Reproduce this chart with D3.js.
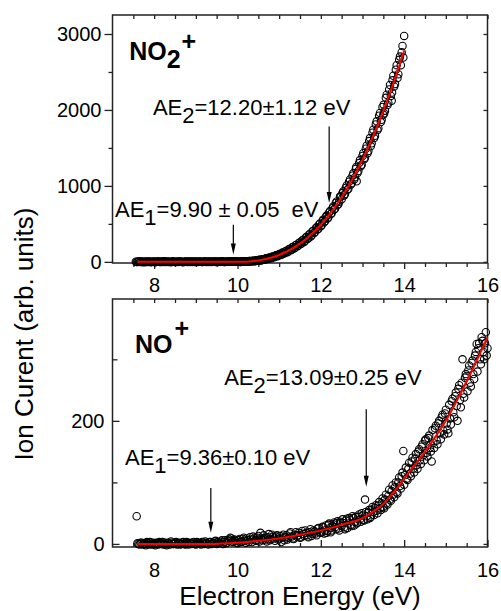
<!DOCTYPE html>
<html>
<head>
<meta charset="utf-8">
<script src="https://cdn.jsdelivr.net/npm/d3@7"></script>
<style>
  html, body { margin: 0; padding: 0; background: #fff; }
  svg { display: block; font-family: "Liberation Sans", Arial, sans-serif; }
  .axis path.domain { display: none; }
  .axis line { stroke: #222; stroke-width: 1.3; }
  .axis text { fill: #000; font-size: 20px; font-family: "Liberation Sans", Arial, sans-serif; }
  .note { font-size: 22px; fill: #000; white-space: pre; }
  .ion { font-size: 25px; font-weight: bold; fill: #000; }
</style>
</head>
<body>
<svg id="chart" width="501" height="611"></svg>
<script>
// ---- Energy axis (eV) ----
const energyTicks = [8, 10, 12, 14, 16];
const energyMinorTicks = [7.5, 8.5, 9, 9.5, 10.5, 11, 11.5, 12.5, 13, 13.5, 14.5, 15, 15.5];

// ---- NO2+ panel ----
const no2Ticks = [0, 1000, 2000, 3000];
const no2MinorTicks = [500, 1500, 2500];
// [electron energy (eV), ion current]
const no2Points = [
  [7.56,3],[7.60,-2],[7.64,5],[7.68,0],[7.72,-4],[7.76,2],[7.80,6],[7.84,-1],[7.88,3],[7.92,-5],
  [7.96,1],[8.00,4],[8.04,-2],[8.08,0],[8.12,5],[8.16,-3],[8.20,2],[8.24,7],[8.28,-1],[8.32,3],
  [8.36,0],[8.40,-4],[8.44,4],[8.48,1],[8.52,-2],[8.56,6],[8.60,0],[8.64,3],[8.68,-3],[8.72,2],
  [8.76,5],[8.80,-1],[8.84,0],[8.88,4],[8.92,-2],[8.96,3],[9.00,6],[9.04,-3],[9.08,1],[9.12,2],
  [9.16,-1],[9.20,5],[9.24,0],[9.28,3],[9.32,-2],[9.36,4],[9.40,1],[9.44,6],[9.48,-1],[9.52,2],
  [9.56,4],[9.60,0],[9.64,7],[9.68,-2],[9.72,3],[9.76,5],[9.80,1],[9.84,8],[9.88,2],[9.92,4],
  [9.96,6],[10.00,3],[10.04,4],[10.08,-2],[10.12,7],[10.16,2],[10.20,9],[10.24,1],[10.28,12],[10.32,6],
  [10.36,15],[10.40,9],[10.44,20],[10.48,14],[10.52,28],[10.56,19],[10.60,36],[10.64,30],[10.68,46],[10.72,37],
  [10.76,58],[10.80,49],[10.84,72],[10.88,60],[10.92,86],[10.96,74],[11.00,104],[11.04,90],[11.08,122],[11.12,110],
  [11.16,144],[11.20,128],[11.24,168],[11.28,152],[11.32,195],[11.36,176],[11.40,222],[11.44,205],[11.48,252],[11.52,236],
  [11.56,284],[11.60,262],[11.64,322],[11.68,300],[11.72,360],[11.76,335],[11.80,404],[11.84,380],[11.88,441],[11.92,425],
  [11.96,492],[12.00,470],[12.04,540],[12.08,522],[12.12,590],[12.16,572],[12.20,650],[12.24,630],[12.28,708],[12.32,690],
  [12.36,775],[12.40,748],[12.44,790],[12.48,860],[12.52,905],[12.56,875],[12.60,975],[12.64,950],[12.68,1055],[12.72,1020],
  [12.76,1135],[12.80,1085],[12.84,1225],[12.86,1060],[12.88,1170],[12.92,1300],[12.96,1260],[13.00,1395],[13.04,1350],[13.08,1490],
  [13.12,1430],[13.16,1590],[13.20,1525],[13.24,1700],[13.28,1630],[13.32,1810],[13.36,1735],[13.40,1925],[13.44,1840],[13.48,2040],
  [13.50,1936],[13.52,1955],[13.56,2160],[13.60,2065],[13.64,2270],[13.68,2185],[13.70,2120],[13.72,2390],[13.76,2310],[13.80,2530],
  [13.84,2420],[13.88,2660],[13.90,2702],[13.92,2590],[13.96,2842],[14.00,2974],
  // second sweep
  [7.58,-3],[7.62,4],[7.66,-1],[7.70,6],[7.74,1],[7.78,-5],[7.82,3],[7.86,0],[7.90,5],[7.94,-2],
  [7.98,2],[8.02,-4],[8.06,6],[8.10,1],[8.14,-1],[8.18,4],[8.22,-3],[8.26,2],[8.30,5],[8.34,-2],
  [8.38,3],[8.42,0],[8.46,6],[8.50,-3],[8.54,2],[8.58,-1],[8.62,5],[8.66,1],[8.70,-4],[8.74,3],
  [8.78,0],[8.82,6],[8.86,-2],[8.90,2],[8.94,5],[8.98,-1],[9.02,3],[9.06,0],[9.10,6],[9.14,-3],
  [9.18,2],[9.22,4],[9.26,-2],[9.30,5],[9.34,1],[9.38,-1],[9.42,3],[9.46,0],[9.50,6],[9.54,-2],
  [9.58,3],[9.62,5],[9.66,1],[9.70,-1],[9.74,6],[9.78,2],[9.82,4],[9.86,0],[9.90,5],[9.94,2],[9.98,7],
  [10.02,2],[10.06,-1],[10.10,5],[10.14,0],[10.18,6],[10.22,8],[10.26,3],[10.30,10],[10.34,5],[10.38,14],
  [10.42,9],[10.46,21],[10.50,13],[10.54,27],[10.58,22],[10.62,35],[10.66,29],[10.70,46],[10.74,40],[10.78,57],
  [10.82,52],[10.86,70],[10.90,66],[10.94,86],[10.98,82],[11.02,102],[11.06,98],[11.10,124],[11.14,116],[11.18,146],
  [11.22,138],[11.26,170],[11.30,160],[11.34,196],[11.38,186],[11.42,226],[11.46,214],[11.50,256],[11.54,244],[11.58,292],
  [11.62,278],[11.66,330],[11.70,312],[11.74,368],[11.78,350],[11.82,410],[11.86,392],[11.90,455],[11.94,436],[11.98,505],
  [12.02,482],[12.06,556],[12.10,534],[12.14,610],[12.18,585],[12.22,668],[12.26,640],[12.30,730],[12.34,700],[12.38,795],
  [12.42,760],[12.46,862],[12.50,824],[12.54,930],[12.58,892],[12.62,1005],[12.66,962],[12.70,1085],[12.74,1036],[12.78,1165],
  [12.82,1115],[12.85,1250],[12.90,1195],[12.94,1340],[12.98,1280],[13.02,1430],[13.06,1370],[13.10,1530],[13.14,1460],[13.18,1630],
  [13.22,1560],[13.26,1740],[13.30,1660],[13.34,1850],[13.38,1760],[13.42,1960],[13.46,1870],[13.51,2070],[13.54,1990],[13.58,2200],
  [13.62,2095],[13.66,2330],[13.71,2230],[13.74,2450],[13.78,2340],[13.82,2590],[13.86,2470],[13.94,2760],[13.98,2690]
];
const no2FitEnergy = [7.6, 9.9, 10.2, 10.4, 10.6, 10.8, 11.0, 11.2, 11.4, 11.6, 11.8, 12.0, 12.2,
                      12.4, 12.6, 12.8, 13.0, 13.2, 13.4, 13.6, 13.8, 14.0];
const no2FitSignal = [0, 0, 3, 12, 28, 54, 91, 140, 204, 282, 377, 489, 619,
                      769, 939, 1131, 1345, 1583, 1844, 2131, 2443, 2783];

// ---- NO+ panel ----
const noTicks = [0, 200];
const noMinorTicks = [100, 300];
const noPoints = [
  [7.58,45],
  [7.60,1],[7.65,-1],[7.70,2],[7.75,0],[7.80,-2],[7.85,1],[7.90,3],[7.95,-1],[8.00,0],[8.05,2],
  [8.10,-1],[8.15,1],[8.20,3],[8.25,0],[8.30,-2],[8.35,2],[8.40,4],[8.45,0],[8.50,1],[8.55,-1],
  [8.60,2],[8.65,0],[8.70,3],[8.75,-1],[8.80,1],[8.85,2],[8.90,0],[8.95,3],[9.00,-1],[9.05,2],
  [9.10,1],[9.15,3],[9.20,0],[9.25,2],[9.30,-1],[9.35,3],[9.40,1],[9.45,4],[9.50,0],
  [9.55,1],[9.60,4],[9.65,0],[9.70,6],[9.75,2],[9.80,7],[9.85,9],[9.90,3],[9.95,5],[10.00,1],
  [10.05,8],[10.10,4],[10.15,10],[10.20,2],[10.25,6],[10.30,11],[10.35,3],[10.40,9],[10.45,5],[10.50,13],
  [10.55,18],[10.60,6],[10.65,10],[10.70,4],[10.75,16],[10.80,8],[10.85,12],[10.90,5],[10.95,14],[11.00,9],
  [11.05,3],[11.10,15],[11.15,11],[11.20,7],[11.25,17],[11.30,12],[11.35,8],[11.40,19],[11.45,14],[11.50,10],
  [11.55,21],[11.60,13],[11.65,18],[11.70,11],[11.75,24],[11.80,16],[11.85,20],[11.90,14],[11.95,26],[12.00,18],
  [12.04,28],[12.08,17],[12.12,30],[12.16,21],[12.20,33],[12.24,19],[12.28,29],[12.32,35],[12.36,24],[12.40,37],
  [12.44,22],[12.48,34],[12.52,40],[12.56,27],[12.60,38],[12.64,26],[12.68,42],[12.72,31],[12.76,45],[12.80,30],
  [12.84,44],[12.88,35],[12.92,48],[12.96,36],[13.00,46],[13.04,38],[13.06,72],[13.08,52],[13.12,40],[13.16,55],
  [13.20,44],[13.24,60],[13.28,47],[13.32,63],[13.36,50],[13.40,68],[13.44,55],[13.48,74],[13.52,58],[13.56,80],
  [13.60,64],[13.64,88],[13.68,70],[13.72,95],[13.76,76],[13.80,100],[13.84,82],[13.88,108],[13.92,90],[13.96,116],
  [13.98,151],[14.00,96],[14.04,124],[14.08,104],[14.12,132],[14.16,110],[14.20,140],[14.24,116],[14.28,146],[14.32,122],
  [14.36,154],[14.40,130],[14.44,162],[14.48,136],[14.52,170],[14.56,142],[14.60,176],[14.64,150],[14.68,185],[14.72,156],
  [14.76,192],[14.80,162],[14.84,200],[14.88,170],[14.92,210],[14.96,178],[15.00,218],[15.04,186],[15.08,226],[15.12,194],
  [15.16,236],[15.20,206],[15.24,246],[15.28,200],[15.32,258],[15.36,222],[15.40,300],[15.44,238],[15.48,276],[15.52,248],
  [15.56,290],[15.60,256],[15.64,298],[15.68,268],[15.72,312],[15.76,280],[15.80,326],[15.84,292],[15.88,330],[15.92,300],
  [15.96,344],[16.00,318],
  // second sweep
  [7.625,0],[7.675,2],[7.725,-1],[7.775,1],[7.825,3],[7.875,-1],[7.925,0],[7.975,2],[8.025,-2],[8.075,1],
  [8.125,3],[8.175,0],[8.225,-1],[8.275,2],[8.325,1],[8.375,-1],[8.425,2],[8.475,0],[8.525,3],[8.575,1],
  [8.625,-1],[8.675,2],[8.725,0],[8.775,3],[8.825,-1],[8.875,1],[8.925,2],[8.975,0],[9.025,3],[9.075,1],
  [9.125,-1],[9.175,2],[9.225,4],[9.275,1],[9.325,3],[9.375,0],[9.425,2],[9.475,5],
  [9.525,3],[9.575,2],[9.625,6],[9.675,3],[9.725,1],[9.775,5],[9.825,10],[9.875,4],[9.925,7],[9.975,2],
  [10.025,6],[10.075,3],[10.125,8],[10.175,5],[10.225,9],[10.275,3],[10.325,7],[10.375,12],[10.425,6],[10.475,10],
  [10.525,4],[10.575,9],[10.625,14],[10.675,7],[10.725,11],[10.775,6],[10.825,15],[10.875,9],[10.925,12],[10.975,7],
  [11.025,13],[11.075,10],[11.125,6],[11.175,14],[11.225,10],[11.275,19],[11.325,9],[11.375,15],[11.425,12],[11.475,18],
  [11.525,11],[11.575,16],[11.625,22],[11.675,14],[11.725,19],[11.775,13],[11.825,22],[11.875,17],[11.925,25],[11.975,19],
  [12.02,20],[12.06,27],[12.10,22],[12.14,18],[12.18,31],[12.22,26],[12.26,22],[12.30,32],[12.34,27],[12.38,34],
  [12.42,25],[12.46,36],[12.50,29],[12.54,34],[12.58,24],[12.62,41],[12.66,33],[12.70,39],[12.74,29],[12.78,42],
  [12.82,36],[12.86,33],[12.90,44],[12.94,40],[12.98,50],[13.02,39],[13.10,45],[13.14,51],[13.18,42],[13.22,56],
  [13.26,52],[13.30,58],[13.34,54],[13.38,62],[13.42,58],[13.46,66],[13.50,60],[13.54,72],[13.58,66],[13.62,78],
  [13.66,72],[13.70,86],[13.74,80],[13.78,92],[13.82,84],[13.86,100],[13.90,94],[13.94,110],[14.02,112],
  [14.06,106],[14.10,122],[14.14,114],[14.18,134],[14.22,122],[14.26,138],[14.30,128],[14.34,150],[14.38,136],[14.42,158],
  [14.46,144],[14.50,168],[14.54,148],[14.58,172],[14.62,156],[14.66,134],[14.70,164],[14.74,188],[14.78,168],[14.82,196],
  [14.86,180],[14.90,206],[14.94,184],[14.98,212],[15.02,196],[15.06,180],[15.10,204],[15.14,232],[15.18,214],[15.22,240],
  [15.26,224],[15.30,252],[15.34,234],[15.38,262],[15.42,244],[15.46,270],[15.50,273],[15.54,282],[15.58,262],[15.62,294],
  [15.66,276],[15.70,306],[15.74,325],[15.78,318],[15.82,300],[15.86,336],[15.90,312],[15.94,326],[15.98,306]
];
const noFitEnergy = [7.6, 9.36, 9.6, 10.0, 10.5, 11.0, 11.5, 12.0, 12.5, 13.0, 13.25, 13.5, 13.75,
                     14.0, 14.25, 14.5, 14.75, 15.0, 15.25, 15.5, 15.75, 16.0];
const noFitSignal = [0, 0, 0.5, 2, 5, 9, 15, 22, 31, 42, 52, 65, 84,
                     106, 128, 150, 174, 200, 231, 264, 299, 336];

// ---- Annotations (positions in data units) ----
const no2Notes = [
  { text: "AE", sub: "1", rest: "=9.90 ± 0.05  eV", e: 7.06, v: 595 },
  { text: "AE", sub: "2", rest: "=12.20±1.12 eV", e: 7.97, v: 1936 }
];
const no2Arrows = [ { e: 9.90, from: 490, to: 96 }, { e: 12.20, from: 1782, to: 775 } ];
const noNotes = [
  { text: "AE", sub: "1", rest: "=9.36±0.10 eV", e: 7.30, v: 129 },
  { text: "AE", sub: "2", rest: "=13.09±0.25 eV", e: 9.68, v: 259 }
];
const noArrows = [ { e: 9.36, from: 91, to: 18 }, { e: 13.09, from: 219, to: 93 } ];

// ---- Layout ----
const svg = d3.select("#chart");
const plotLeft = 112.5, plotRight = 487.5;
const x = d3.scaleLinear().domain([7, 16]).range([plotLeft, plotRight]);

const panels = [
  {
    top: 15, bottom: 263, yDomain: [-15, 3250],
    ticks: no2Ticks, minor: no2MinorTicks,
    points: no2Points, fitE: no2FitEnergy, fitS: no2FitSignal,
    notes: no2Notes, arrows: no2Arrows,
    ion: { e: 7.40, v: 2658, main: "NO", sub: "2" },
    leftOut: true, bottomOut: true, xLabelPad: 9, yLabelPad: 3
  },
  {
    top: 299, bottom: 547, yDomain: [-5, 398],
    ticks: noTicks, minor: noMinorTicks,
    points: noPoints, fitE: noFitEnergy, fitS: noFitSignal,
    notes: noNotes, arrows: noArrows,
    ion: { e: 7.54, v: 310, main: "NO", sub: null },
    leftOut: false, bottomOut: false, xLabelPad: 16, yLabelPad: 8
  }
];

panels.forEach(p => {
  const y = d3.scaleLinear().domain(p.yDomain).range([p.bottom, p.top]);
  const g = svg.append("g");

  // frame
  g.append("rect")
    .attr("x", plotLeft).attr("y", p.top)
    .attr("width", plotRight - plotLeft).attr("height", p.bottom - p.top)
    .attr("fill", "none").attr("stroke", "#222").attr("stroke-width", 1.5);

  const fmt = d3.format("d");
  const major = p.leftOut ? 8 : -7;
  const minorL = p.leftOut ? 4 : -5;
  const bMajor = p.bottomOut ? 6 : -7;
  const bMinor = p.bottomOut ? 4 : -4;

  // bottom axis (labelled) + minor ticks
  g.append("g").attr("class", "axis").attr("transform", `translate(0,${p.bottom})`)
    .call(d3.axisBottom(x).tickValues(energyTicks).tickSize(bMajor).tickSizeOuter(0)
      .tickPadding(p.xLabelPad).tickFormat(fmt));
  g.append("g").attr("class", "axis").attr("transform", `translate(0,${p.bottom})`)
    .call(d3.axisBottom(x).tickValues(energyMinorTicks).tickSize(bMinor).tickSizeOuter(0).tickFormat(""));

  // top axis: inward ticks only
  g.append("g").attr("class", "axis").attr("transform", `translate(0,${p.top})`)
    .call(d3.axisTop(x).tickValues(energyTicks.concat(energyMinorTicks)).tickSize(-4).tickSizeOuter(0).tickFormat(""));

  // left axis
  g.append("g").attr("class", "axis").attr("transform", `translate(${plotLeft},0)`)
    .call(d3.axisLeft(y).tickValues(p.ticks).tickSize(major).tickSizeOuter(0)
      .tickPadding(p.yLabelPad).tickFormat(fmt));
  g.append("g").attr("class", "axis").attr("transform", `translate(${plotLeft},0)`)
    .call(d3.axisLeft(y).tickValues(p.minor.filter(v => v <= p.yDomain[1])).tickSize(minorL).tickSizeOuter(0).tickFormat(""));

  // right axis: inward ticks only
  g.append("g").attr("class", "axis").attr("transform", `translate(${plotRight},0)`)
    .call(d3.axisRight(y).tickValues(p.ticks.concat(p.minor).filter(v => v <= p.yDomain[1]))
      .tickSize(-4).tickSizeOuter(0).tickFormat(""));

  // measured points (open circles)
  g.append("g").selectAll("circle").data(p.points).join("circle")
    .attr("cx", d => x(d[0])).attr("cy", d => y(d[1])).attr("r", 3.7)
    .attr("fill", "none").attr("stroke", "#000").attr("stroke-width", 1.1);

  // threshold fit
  const fit = p.fitE.map((e, i) => [e, p.fitS[i]]);
  g.append("path").datum(fit)
    .attr("fill", "none").attr("stroke", "#ff0000").attr("stroke-width", 2)
    .attr("d", d3.line().x(d => x(d[0])).y(d => y(d[1])).curve(d3.curveMonotoneX));

  // ion label
  const ion = g.append("text").attr("class", "ion")
    .attr("x", x(p.ion.e)).attr("y", y(p.ion.v));
  ion.append("tspan").text(p.ion.main);
  if (p.ion.sub) {
    ion.append("tspan").attr("dy", 8).text(p.ion.sub);
    ion.append("tspan").attr("dy", -18).attr("dx", 1).text("+");
  } else {
    ion.append("tspan").attr("dy", -16).attr("dx", 2).text("+");
  }

  // appearance-energy notes
  p.notes.forEach(n => {
    const t = g.append("text").attr("class", "note").attr("x", x(n.e)).attr("y", y(n.v));
    t.append("tspan").text(n.text);
    t.append("tspan").attr("dy", 8).text(n.sub);
    t.append("tspan").attr("dy", -8).text(n.rest);
  });

  // arrows
  p.arrows.forEach(a => {
    const ax = x(a.e), y0 = y(a.from), y1 = y(a.to);
    g.append("line").attr("x1", ax).attr("x2", ax).attr("y1", y0).attr("y2", y1 - 8)
      .attr("stroke", "#000").attr("stroke-width", 1.2);
    g.append("path")
      .attr("d", `M${ax - 2.5},${y1 - 11} L${ax + 2.5},${y1 - 11} L${ax},${y1} Z`)
      .attr("fill", "#000");
  });
});

// axis titles
svg.append("text").attr("x", 300).attr("y", 605).attr("text-anchor", "middle")
  .attr("font-size", 26).text("Electron Energy (eV)");
svg.append("text").attr("transform", "translate(33,334) rotate(-90)").attr("text-anchor", "middle")
  .attr("font-size", 26).text("Ion Curent (arb. units)");
</script>
</body>
</html>
